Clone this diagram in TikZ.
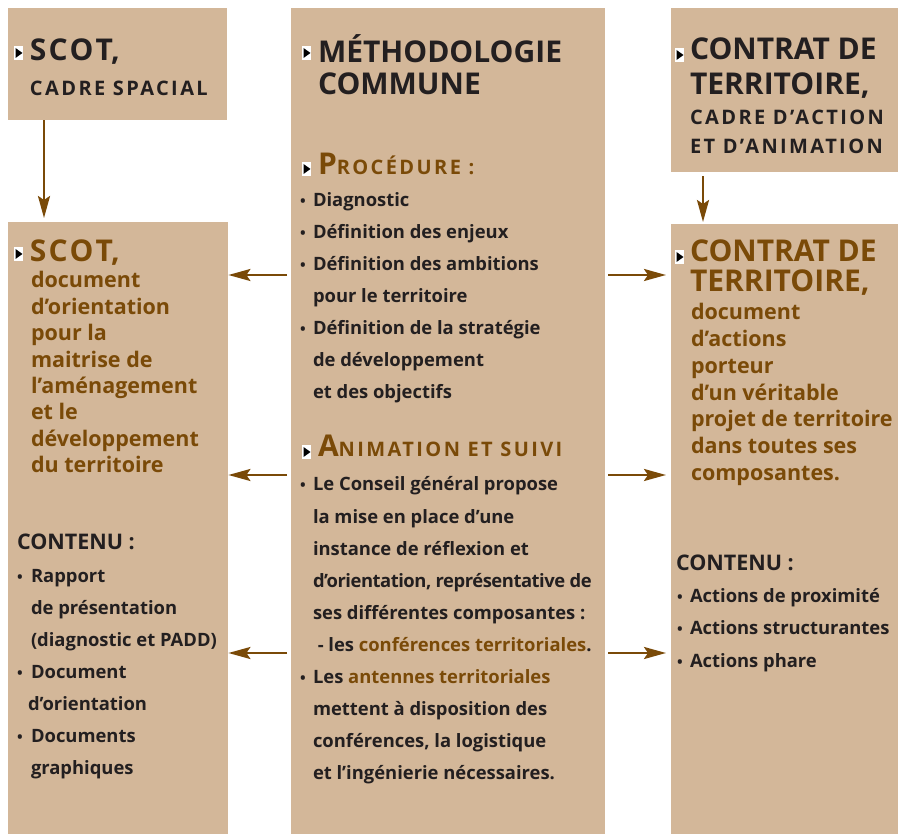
\documentclass[tikz,border=0pt]{standalone}
\usepackage{fontspec}
\setmainfont{Open Sans}
\usetikzlibrary{arrows.meta}
\definecolor{tan}{HTML}{D3B799}
\definecolor{brn}{HTML}{7A4A08}
\definecolor{ink}{HTML}{231F20}
\newfontfamily\spaced[LetterSpace=12]{Open Sans}
\newfontfamily\tight[LetterSpace=-2.5]{Open Sans}
\newcommand\bigf{\fontsize{30}{32}\selectfont\bfseries}
\newcommand\scf{\fontsize{20}{22}\spaced\bfseries}
\newcommand\bodyf{\fontsize{18.4}{22}\selectfont\bfseries}
\newcommand\dotf{\fontsize{15}{22}\selectfont\bfseries}
\newcommand\descf{\fontsize{21.5}{24}\selectfont\bfseries}
\newcommand\tblock[6]{\foreach \t [count=\i] in {#6} {\node[#5] (#1\i) at (#2, #3+#4*\i-#4) {\t};}}
\begin{document}
\begin{tikzpicture}[x=1pt,y=-1pt,
  box/.style={fill=tan, draw=none, inner sep=0, anchor=north west},
  conn/.style={draw=brn, line width=2.5pt, -{Stealth[length=22pt,width=12pt,inset=4pt]}},
  txt/.style={anchor=base west, inner sep=0, outer sep=0, text=ink},
  btxt/.style={txt, text=brn},
  arrowmark/.pic={\fill[white] (0,-7) rectangle (9,7); \fill[black] (1.5,-5) -- (8.5,0) -- (1.5,5) -- cycle;}]
\useasboundingbox (0,0) rectangle (898,834);
% boxes
\node[box, minimum width=219pt, minimum height=112pt] (A) at (8,8) {};
\node[box, minimum width=220pt, minimum height=612pt] (B) at (8,222) {};
\node[box, minimum width=314pt, minimum height=826pt] (C) at (291,8) {};
\node[box, minimum width=227pt, minimum height=164pt] (D) at (671,8) {};
\node[box, minimum width=227pt, minimum height=610pt] (E) at (671,224) {};
% connectors
\draw[conn, shorten >=4pt] ([xshift=36pt]A.south west) -- ([xshift=36pt]B.north west);
\draw[conn, shorten <=4pt, shorten >=2pt] ([xshift=32pt]D.south west) -- ([xshift=32pt]E.north west);
\foreach \yy in {275,475,653}{
  \draw[conn, shorten <=4pt] (C.west |- 0,\yy) -- (B.east |- 0,\yy);
  \draw[conn, shorten <=3pt, shorten >=5pt] (C.east |- 0,\yy) -- (E.west |- 0,\yy);
}
% markers
\foreach \mx/\my in {14/53, 302/53, 302/169, 302/452, 14/254, 675/55, 675/257}
  \pic at (\mx,\my) {arrowmark};
% box A
\node[txt, font=\bigf] (a1) at (30,61) {S\kern2pt C\kern2pt O\kern2pt T,};
\node[txt, font=\scf] (a2) at (30,96) {CADRE SPACIAL};
% box D
\tblock{d}{690}{60}{35}{txt, font=\bigf}{CONTRAT DE, TERRITOIRE{,}}
\tblock{ds}{690}{125}{29}{txt, font=\scf}{CADRE D’ACTION, ET D’ANIMATION}
% box C
\tblock{c}{318}{63}{32}{txt, font=\bigf}{MÉTHODOLOGIE, COMMUNE}
\node[btxt] (cp) at (318,175) {\bigf P\scf ROCÉDURE :};
\tblock{cb}{300}{207}{32}{txt, font=\dotf}{•,•,•,,•,,}
\tblock{ct}{313}{207}{32}{txt, font=\bodyf}{Diagnostic, Définition des enjeux, Définition des ambitions, pour le territoire, Définition de la stratégie, de développement, et des objectifs}
\node[btxt] (ca) at (318,457) {\bigf A\scf NIMATION ET SUIVI};
\tblock{cc}{300}{491}{32}{txt, font=\dotf}{•,,,,,,•}
\tblock{cs}{313}{491}{32}{txt, font=\bodyf}{Le Conseil général propose, la mise en place d’une, instance de réflexion et, {\tight d’orientation, représentative de}, ses différentes composantes :, {\ - les \textcolor{brn}{conférences territoriales}.}, Les \textcolor{brn}{antennes territoriales}, mettent à disposition des, {conférences, la logistique}, et l’ingénierie nécessaires.}
% box B
\node[btxt, font=\bigf] (b0) at (30,262) {S\kern2pt C\kern2pt O\kern2pt T,};
\tblock{bd}{31}{288}{26.4}{btxt, font=\descf}{document, d’orientation, pour la, maitrise de, l’aménagement, et le, développement, du territoire}
\node[txt, font=\descf] (bh) at (17,550) {CONTENU :};
\tblock{bb}{17}{582}{32}{txt, font=\dotf}{•,,,•,,•,}
\tblock{bl}{31}{582}{32}{txt, font=\bodyf}{Rapport, de présentation, (diagnostic et PADD), Document, \hspace{-3pt}d’orientation, Documents, graphiques}
% box E
\tblock{e}{690}{262}{30}{btxt, font=\bigf}{CONTRAT DE, TERRITOIRE{,}}
\tblock{ed}{691}{320}{26.7}{btxt, font=\descf}{document, d’actions, porteur, d’un véritable, projet de territoire, dans toutes ses, composantes.}
\node[txt, font=\descf] (eh) at (676,570) {CONTENU :};
\tblock{eb}{677}{602}{32.5}{txt, font=\dotf}{•,•,•}
\tblock{el}{690}{602}{32.5}{txt, font=\bodyf}{Actions de proximité, Actions structurantes, Actions phare}
\end{tikzpicture}
\end{document}
